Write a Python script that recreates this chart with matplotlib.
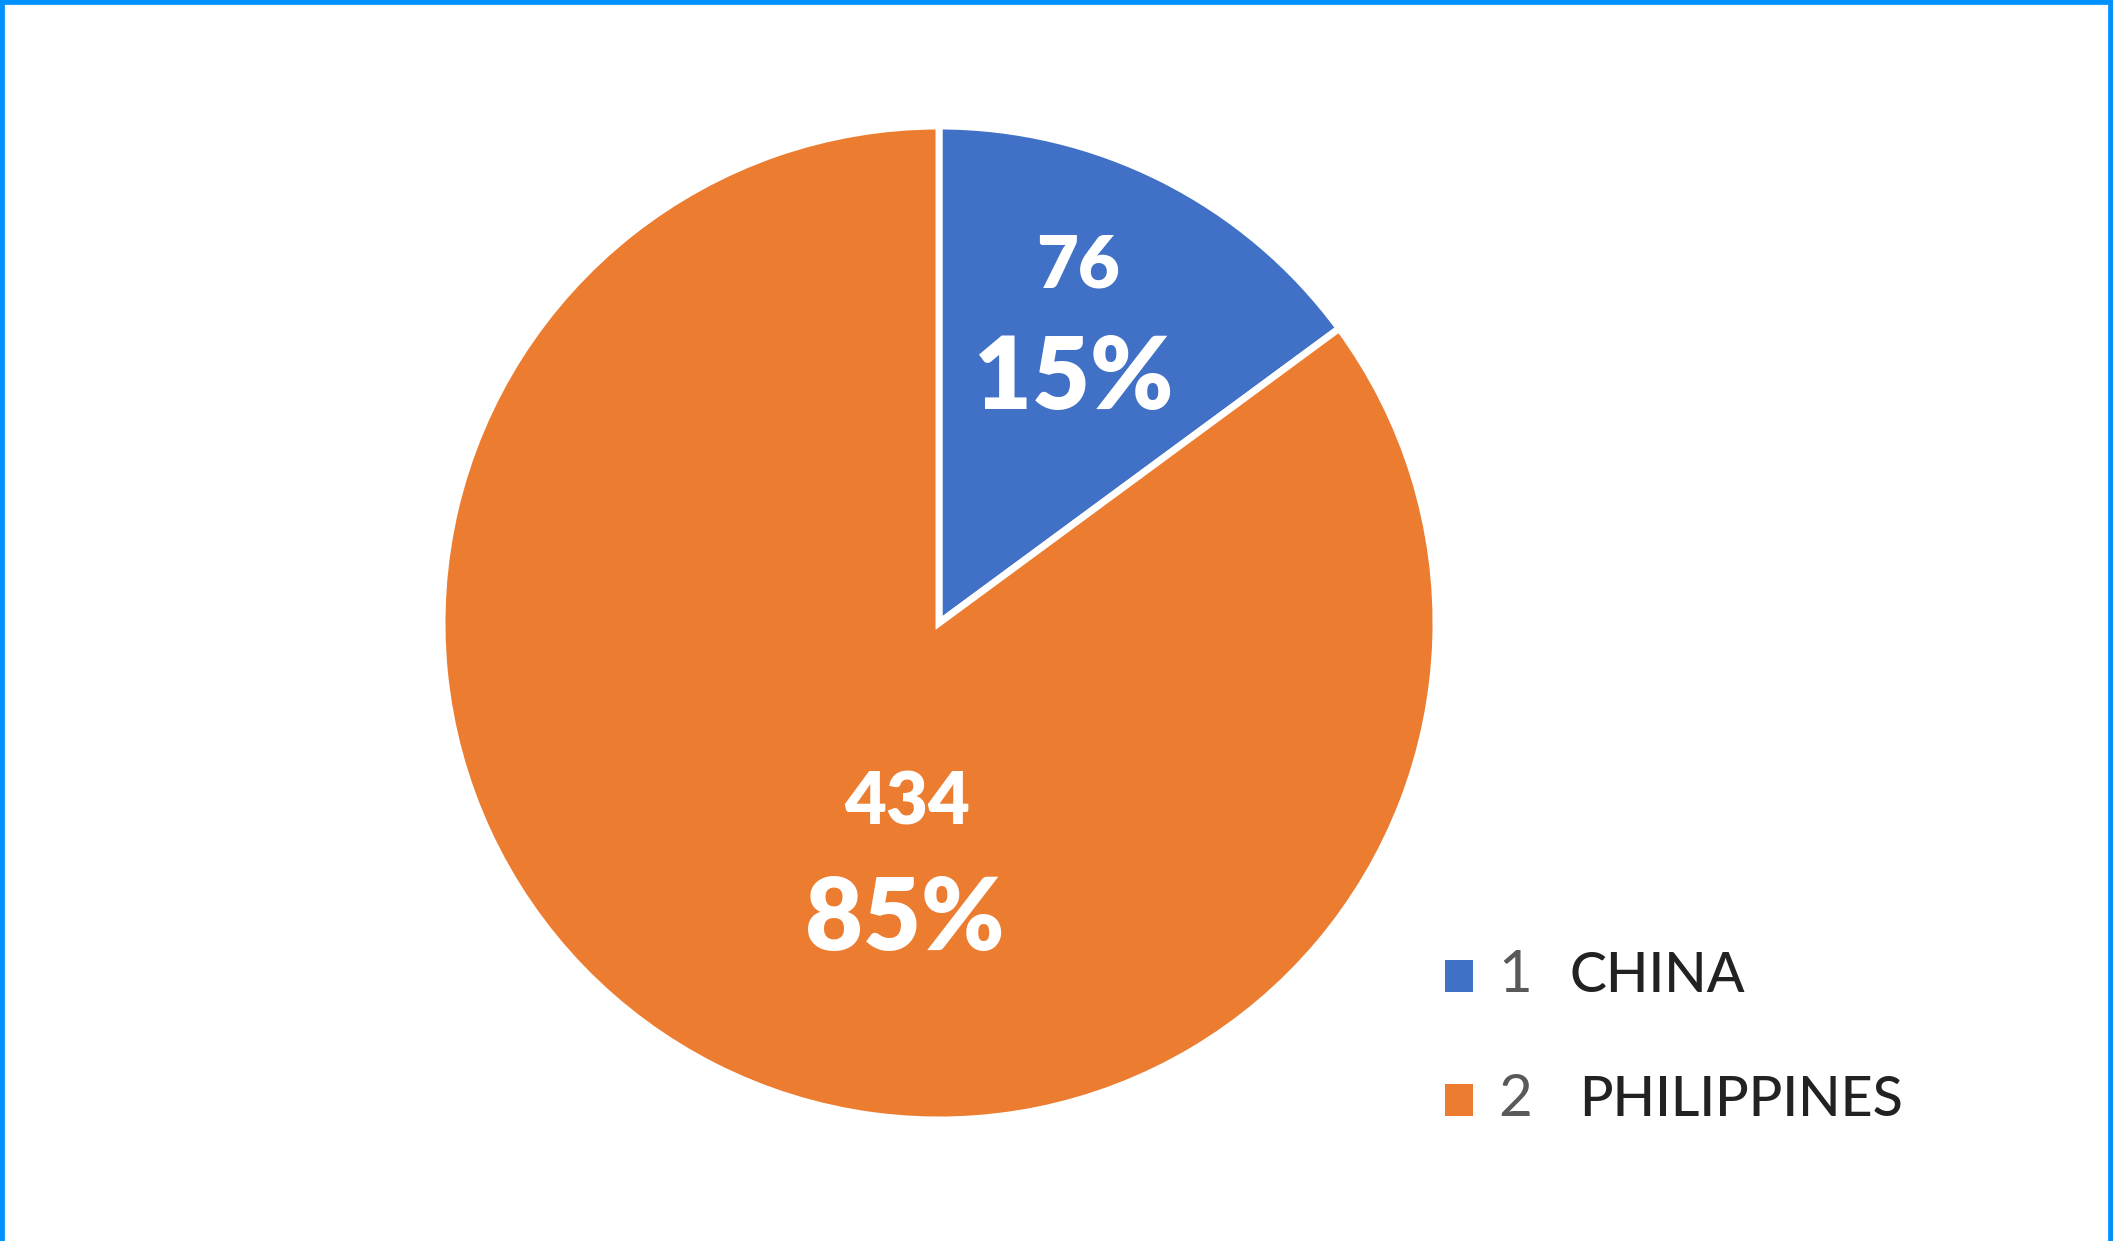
import matplotlib.pyplot as plt
from matplotlib.patches import Rectangle
from matplotlib.lines import Line2D

# data
ids = ['1', '2']
countries = ['CHINA', 'PHILIPPINES']
counts = [76, 434]
colors = ['#4171C6', '#EC7D30']

# label anchor points inside the pie (data units, radius = 1)
count_pos = [(0.280, 0.718), (-0.064, -0.364)]
pct_pos = [(0.272, 0.489), (-0.068, -0.600)]

W, H = 2113, 1241
fig = plt.figure(figsize=(W / 100, H / 100), dpi=100)
fig.patch.set_facecolor('white')

# pie centred at (939, 623) px with radius 497 px
cx, cy, r = 939, 623, 497
ax = fig.add_axes([(cx - r) / W, (H - cy - r) / H, 2 * r / W, 2 * r / H])
wedges, _ = ax.pie(counts, colors=colors, startangle=90, counterclock=False,
                   radius=1, wedgeprops=dict(edgecolor='white', linewidth=5))
ax.set_xlim(-1, 1)
ax.set_ylim(-1, 1)
ax.set_aspect('equal')
ax.axis('off')

total = sum(counts)
for i, c in enumerate(counts):
    pct = round(100 * c / total)
    ax.text(*count_pos[i], str(c), ha='center', va='center', color='white',
            fontsize=52, fontweight='heavy', family='Lato')
    ax.text(*pct_pos[i], f'{pct}%', ha='center', va='center', color='white',
            fontsize=72, fontweight='heavy', family='Lato')

# legend drawn by hand (number in grey, name in dark)
leg_y = [976, 1100]
for i in range(len(counts)):
    y = 1 - leg_y[i] / H
    fig.add_artist(Rectangle((1445 / W, y - 16 / H), 28 / W, 32 / H,
                             transform=fig.transFigure, color=colors[i], lw=0))
    fig.text(1498 / W, y, ids[i], ha='left', va='center', fontsize=42,
             color='#595959', family='Lato')
    fig.text((1570 + 9 * i) / W, y, countries[i], ha='left', va='center',
             fontsize=40, fontweight='medium', color='#222222', family='Lato')

# blue frame on top, left and right
frame = '#0091FF'
for xs, ys in [([0, 1], [1, 1]), ([0, 0], [0, 1]), ([1, 1], [0, 1])]:
    fig.add_artist(Line2D(xs, ys, transform=fig.transFigure, color=frame, lw=7))

fig.savefig('out.png', dpi=100)
